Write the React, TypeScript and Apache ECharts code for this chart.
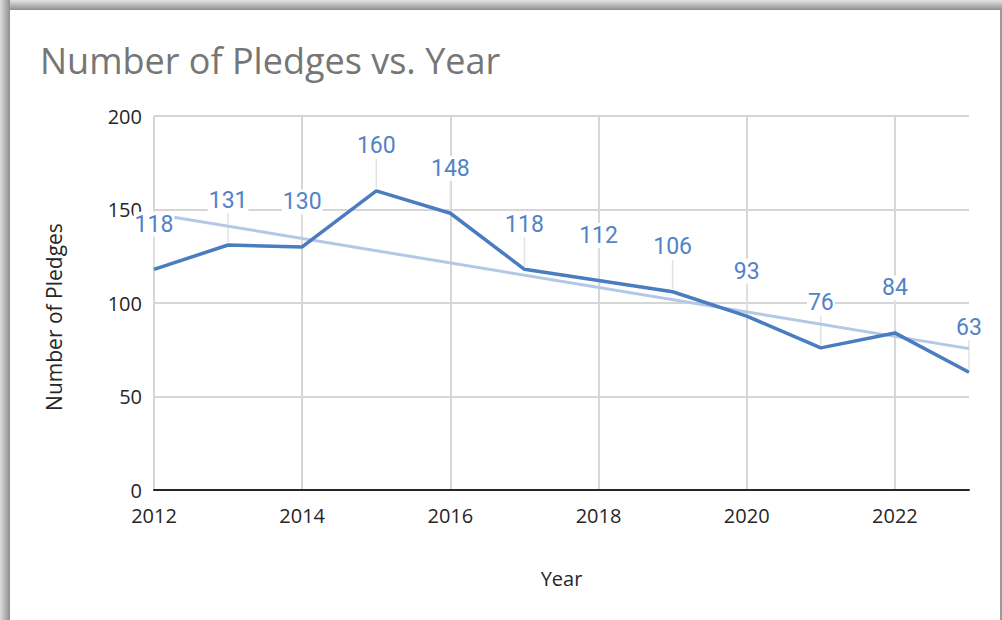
import React, { useEffect, useRef } from "react";
import * as echarts from "echarts";

const years = [2012, 2013, 2014, 2015, 2016, 2017, 2018, 2019, 2020, 2021, 2022, 2023];
const pledges = [118, 131, 130, 160, 148, 118, 112, 106, 93, 76, 84, 63];
// trendline end values
const trendYears = [2012, 2023];
const trendValues = [147.6, 75.6];

const TITLE = "Number of Pledges vs. Year";
const X_NAME = "Year";
const Y_NAME = "Number of Pledges";

export default function App() {
  const ref = useRef<HTMLDivElement>(null);
  useEffect(() => {
    if (!ref.current) return;
    const chart = echarts.init(ref.current, null, { renderer: "svg" });
    const lineData = years.map((y, i) => [y, pledges[i]]);
    const trendData = trendYears.map((y, i) => [y, trendValues[i]]);
    chart.setOption({
      animation: false,
      backgroundColor: "#ffffff",
      title: {
        text: TITLE,
        left: 35,
        top: 37,
        textStyle: { fontFamily: "Open Sans", fontSize: 36, fontWeight: "normal", color: "#767676" },
      },
      graphic: [
        {
          type: "rect",
          shape: { x: 0, y: 0, width: 1002, height: 10 },
          style: {
            fill: new echarts.graphic.LinearGradient(0, 0, 0, 1, [
              { offset: 0, color: "#e4e4e4" },
              { offset: 1, color: "#8e8e8e" },
            ]),
          },
          silent: true,
        },
        {
          type: "rect",
          shape: { x: 0, y: 0, width: 10, height: 620 },
          style: {
            fill: new echarts.graphic.LinearGradient(0, 0, 1, 0, [
              { offset: 0, color: "#dcdcdc" },
              { offset: 1, color: "#8e8e8e" },
            ]),
          },
          silent: true,
        },
        {
          type: "rect",
          shape: { x: 1000, y: 8, width: 2, height: 612 },
          style: { fill: "#9a9a9a" },
          silent: true,
        },
        {
          type: "text",
          x: 54,
          y: 317,
          rotation: Math.PI / 2,
          style: {
            text: Y_NAME,
            fontFamily: "Open Sans",
            fontSize: 21,
            fill: "#262626",
            align: "center",
            verticalAlign: "middle",
          },
          silent: true,
        },
      ],
      grid: { left: 154, right: 33, top: 116, bottom: 130, containLabel: false },
      xAxis: {
        type: "value",
        min: 2012,
        max: 2023,
        interval: 2,
        name: X_NAME,
        nameLocation: "middle",
        nameGap: 78,
        nameTextStyle: { fontFamily: "Open Sans", fontSize: 20, color: "#262626" },
        axisLine: { show: true, lineStyle: { color: "#262626", width: 2 } },
        axisTick: { show: false },
        axisLabel: {
          fontFamily: "Open Sans",
          fontSize: 20,
          color: "#262626",
          margin: 15,
          showMaxLabel: false,
          formatter: (v: number) => String(v),
        },
        splitLine: { show: true, showMaxLine: false, lineStyle: { color: "#d6d6d6", width: 2 } },
      },
      yAxis: {
        type: "value",
        min: 0,
        max: 200,
        interval: 50,
        axisLine: { show: false },
        axisTick: { show: false },
        axisLabel: { fontFamily: "Open Sans", fontSize: 20, color: "#262626", margin: 12 },
        splitLine: { show: true, lineStyle: { color: "#d6d6d6", width: 2 } },
      },
      series: [
        {
          type: "custom",
          z: 1,
          silent: true,
          data: lineData,
          renderItem: (params: any, api: any) => {
            const p = api.coord([api.value(0), api.value(1)]);
            return {
              type: "line",
              shape: { x1: p[0], y1: p[1] - 32, x2: p[0], y2: p[1] - 3 },
              style: { stroke: "#e2e2e2", lineWidth: 1.5 },
            };
          },
        },
        {
          type: "line",
          z: 2,
          data: trendData,
          showSymbol: false,
          symbol: "none",
          lineStyle: { color: "#b3c8e7", width: 3 },
          silent: true,
        },
        {
          type: "line",
          z: 3,
          data: lineData,
          showSymbol: true,
          symbol: "circle",
          symbolSize: 1,
          itemStyle: { color: "#4a7cc0", opacity: 0 },
          lineStyle: { color: "#4a7cc0", width: 3.5, opacity: 1 },
          label: {
            show: true,
            position: "top",
            distance: 32,
            fontFamily: "Roboto",
            fontSize: 23,
            color: "#5283c6",
            opacity: 1,
            backgroundColor: "#ffffff",
            padding: [1, 1, 1, 1],
            formatter: (p: any) => String(p.value[1]),
          },
          labelLayout: { hideOverlap: false },
        },
      ],
    });
    return () => chart.dispose();
  }, []);
  return (
    <div
      ref={ref}
      style={{ position: "fixed", left: 0, top: 0, width: 1002, height: 620 }}
    />
  );
}
